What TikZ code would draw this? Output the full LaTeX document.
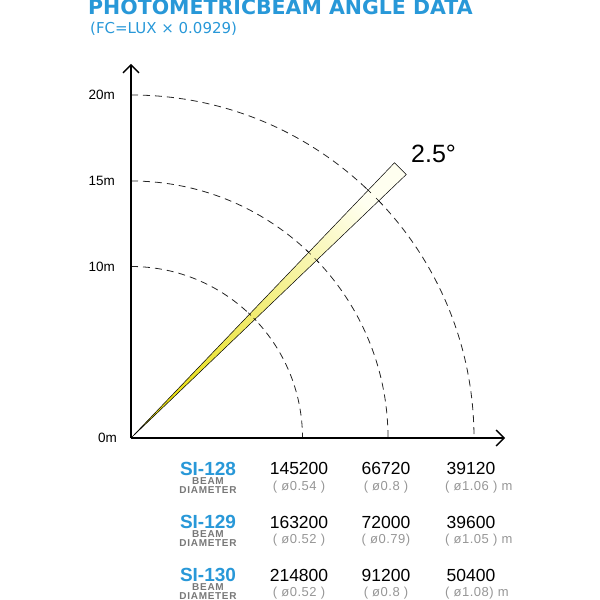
\documentclass[tikz,border=0pt]{standalone}
\usepackage{fontspec}
\setmainfont{Liberation Sans}
\newfontfamily\titlefont{DejaVu Sans}
\newfontfamily\spacedfont[LetterSpace=7]{Liberation Sans}
\newfontfamily\diafont[LetterSpace=4]{Liberation Sans}
\usetikzlibrary{arrows.meta, positioning}
\definecolor{titleblue}{RGB}{40,152,216}
\definecolor{beamdark}{RGB}{232,222,20}
\definecolor{beammid}{RGB}{247,241,125}
\definecolor{beamlight}{RGB}{255,255,240}
\definecolor{labelgray}{RGB}{120,120,120}
\definecolor{diagray}{RGB}{150,150,150}
\tikzset{
  axis/.style={line width=1.4pt, -{Straight Barb[length=8pt, width=16pt]}},
  ring/.style={dash pattern=on 7pt off 5pt, line width=0.8pt, black!85},
  beam/.style={draw=black, line width=0.5pt, bottom color=beamdark, middle color=beammid, top color=beamlight, shading angle=-45},
  ylab/.style={anchor=east, inner sep=0pt, font=\fontsize{13.5}{14}\selectfont},
  model/.style={inner sep=0pt, text=titleblue, font=\fontsize{19}{20}\selectfont\bfseries},
  beamlab/.style={inner sep=0pt, text=labelgray, font=\fontsize{10}{10}\selectfont\spacedfont\bfseries},
  lux/.style={inner sep=0pt, font=\fontsize{17.5}{18}\selectfont},
  dia/.style={inner sep=0pt, text=diagray, font=\fontsize{13}{14}\selectfont\diafont},
}

\begin{document}
\begin{tikzpicture}[x=1pt, y=1pt]
  \useasboundingbox (0,0) rectangle (600,600);

  % title
  \node[anchor=base west, inner sep=0pt, text=titleblue, font=\fontsize{20.5}{21}\selectfont\titlefont\bfseries]
    (title) at (88,585) {PHOTOMETRICBEAM ANGLE DATA};
  \node[anchor=base west, inner sep=0pt, text=titleblue, font=\fontsize{15}{16}\selectfont\titlefont]
    (sub) at (90,566) {(FC=LUX × 0.0929)};

  % axes
  \coordinate (O) at (131,162);
  \coordinate (xend) at (505,162);
  \coordinate (yend) at (131,536);
  \node[ylab] (l0) at (117,162) {0m};

  % distance rings
  \foreach \r/\t in {171.5/10m, 257/15m, 343/20m} {
    \draw[ring] ([shift={(90:\r)}]O) arc[start angle=90, end angle=0, radius=\r];
    \node[ylab] (l\t) at ([shift={(-16,\r)}]O) {\t};
  }

  % beam
  \shade[beam] (O) -- ([shift={(43.75:381)}]O) -- ([shift={(46.25:381)}]O) -- cycle;
  \foreach \r in {171.5, 257, 343} {
    \draw[line width=0.5pt] ([shift={(43.1:\r)}]O) arc[start angle=43.1, end angle=44.4, radius=\r];
    \draw[line width=0.5pt] ([shift={(45.6:\r)}]O) arc[start angle=45.6, end angle=46.9, radius=\r];
  }
  \node[anchor=base west, inner sep=0pt, font=\fontsize{25}{26}\selectfont] (angle) at (411,437) {2.5°};

  \draw[axis] (O) -- (xend);
  \draw[axis] (O) -- (yend);

  % table
  \foreach \m/\y/\a/\b/\c/\da/\db/\dc in {
      128/131.5/145200/66720/39120/{( ø0.54 )}/{( ø0.8 )}/{( ø1.06 ) m},
      129/78/163200/72000/39600/{( ø0.52 )}/{( ø0.79)}/{( ø1.05 ) m},
      130/25/214800/91200/50400/{( ø0.52 )}/{( ø0.8 )}/{( ø1.08) m}} {
    \node[model] (si\m) at (208,\y) {SI-\m};
    \node[beamlab] (bm\m) at (208,\y-12.5) {BEAM};
    \node[beamlab] (dm\m) at (208,\y-21.5) {DIAMETER};
    \node[lux] (a\m) at (299,\y) {\a};
    \node[lux] (b\m) at (386,\y) {\b};
    \node[lux] (c\m) at (471,\y) {\c};
    \node[dia] (da\m) at (299,\y-18.5) {\da};
    \node[dia] (db\m) at (386,\y-18.5) {\db};
    \node[dia, anchor=west] (dc\m) at (445,\y-18.5) {\dc};
  }
\end{tikzpicture}
\end{document}
